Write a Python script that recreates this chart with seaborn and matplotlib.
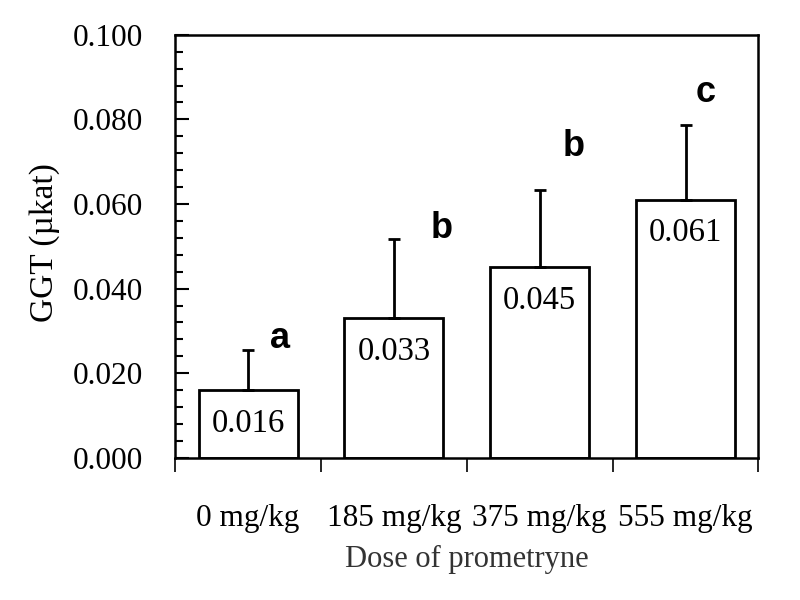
import matplotlib
matplotlib.use("Agg")
import matplotlib.pyplot as plt
import seaborn as sns
import pandas as pd
from matplotlib.ticker import MultipleLocator, FixedLocator

categories = ["0 mg/kg", "185 mg/kg", "375 mg/kg", "555 mg/kg"]
values = [0.016, 0.033, 0.045, 0.061]
errors = [0.0095, 0.0187, 0.0183, 0.0177]
value_labels = ["0.016", "0.033", "0.045", "0.061"]
letters = ["a", "b", "b", "c"]
letter_heights = [0.0283, 0.0543, 0.0736, 0.0864]
letter_offsets = [0.22, 0.33, 0.23, 0.14]

sns.set_style("white")
plt.rcParams['font.family'] = ['Liberation Serif', 'DejaVu Serif']
plt.rcParams['text.color'] = 'black'
plt.rcParams['xtick.color'] = 'black'
plt.rcParams['ytick.color'] = 'black'
plt.rcParams['axes.labelcolor'] = 'black'

df = pd.DataFrame({"dose": categories, "ggt": values})

fig = plt.figure(figsize=(8, 6), dpi=100)
ax = fig.add_axes([0.219, 0.237, 0.729, 0.705])

sns.barplot(data=df, x="dose", y="ggt", ax=ax, color="white", edgecolor="black",
            linewidth=2, width=0.68, errorbar=None, saturation=1)

xs = list(range(len(categories)))
ax.errorbar(xs, values, yerr=[[0] * len(errors), errors], fmt="none",
            ecolor="black", elinewidth=2, capsize=4.5, capthick=2, zorder=1)

for x, v, lab in zip(xs, values, value_labels):
    ax.text(x, v - 0.0043, lab, ha="center", va="top", fontsize=23.5, color="black")

for x, h, l, o in zip(xs, letter_heights, letters, letter_offsets):
    ax.text(x + o, h, l, ha="center", va="center", fontsize=26, fontweight="bold",
            family="Liberation Sans", color="black")

ax.set_xlim(-0.5, 3.5)
ax.set_ylim(0, 0.1)
ax.yaxis.set_major_locator(MultipleLocator(0.02))
ax.yaxis.set_minor_locator(MultipleLocator(0.004))
ax.set_yticklabels([f"{t:.3f}" for t in ax.get_yticks()])
ax.tick_params(axis="y", which="major", direction="in", length=10, width=1.5,
               labelsize=22.5, pad=23, left=True, colors="black")
ax.tick_params(axis="y", which="minor", direction="in", length=6, width=1.5, left=True,
               colors="black")

ax.xaxis.set_minor_locator(FixedLocator([-0.5, 0.5, 1.5, 2.5, 3.5]))
ax.tick_params(axis="x", which="major", length=0, labelsize=22.5, pad=33, colors="black")
ax.tick_params(axis="x", which="minor", direction="out", length=10, width=1.2, bottom=True,
               colors="black")

for s in ax.spines.values():
    s.set_visible(True)
    s.set_color("black")
    s.set_linewidth(1.8)

ax.set_xlabel("Dose of prometryne", fontsize=22, color="#333333", labelpad=9)
ax.set_ylabel("GGT (\u00b5kat)", fontsize=24, color="black")
ax.yaxis.set_label_coords(-0.197, 0.51)

fig.savefig("out.png", dpi=100)
